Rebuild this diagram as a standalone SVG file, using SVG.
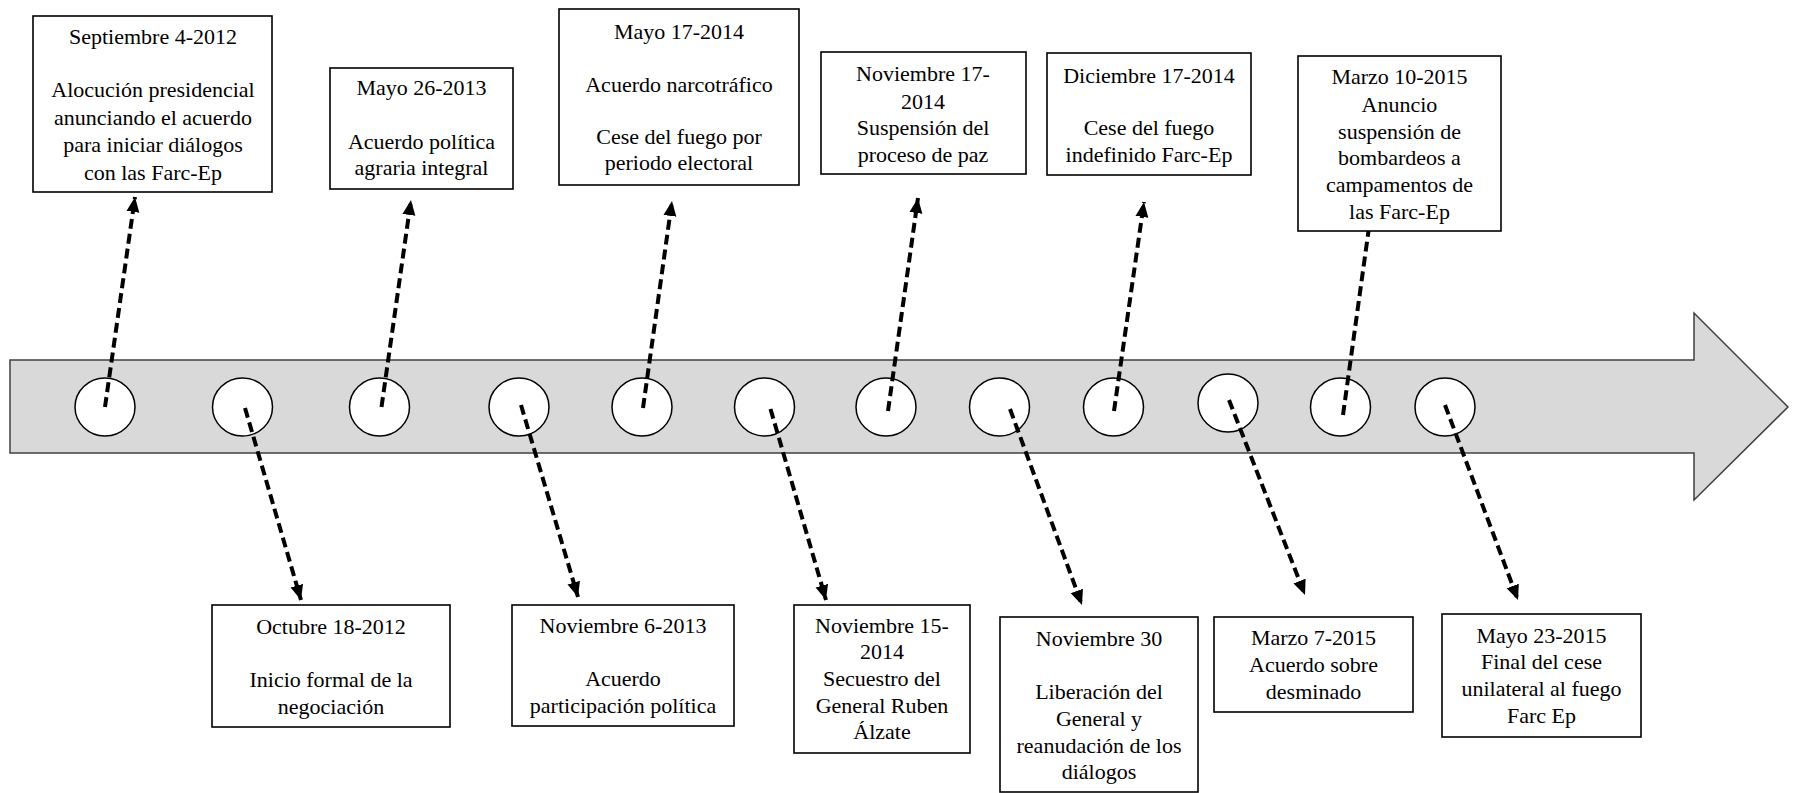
<svg xmlns="http://www.w3.org/2000/svg" width="1800" height="793" viewBox="0 0 1800 793">
<style>
.band{fill:#d9d9d9;stroke:#404040;stroke-width:1.5}
.dot{fill:#ffffff;stroke:#000000;stroke-width:1.5}
.box{fill:#ffffff;stroke:#000000;stroke-width:1.6}
.conn{fill:none;stroke:#000000;stroke-width:4;stroke-dasharray:10 5}
.t{font-family:'Liberation Serif','Times New Roman','DejaVu Serif',serif;font-size:22px;fill:#000000;text-anchor:middle}
</style>
<defs>
<marker id="ah" markerUnits="userSpaceOnUse" markerWidth="16" markerHeight="14" refX="15" refY="7" orient="auto" viewBox="0 0 16 14">
<path d="M0,0.5 L15,7 L0,13.5 z" fill="#000000"/>
</marker>
</defs>
<rect width="1800" height="793" fill="#ffffff"/>
<g id="timeline">
<path class="band" d="M10,360 H1694 V313 L1788,407 L1694,500 V453 H10 Z"/>
</g>
<g id="points">
<ellipse class="dot" cx="105" cy="407" rx="30" ry="29"/>
<ellipse class="dot" cx="242.5" cy="407" rx="30" ry="29"/>
<ellipse class="dot" cx="379.5" cy="407" rx="30" ry="29"/>
<ellipse class="dot" cx="519" cy="407" rx="30" ry="29"/>
<ellipse class="dot" cx="642" cy="407" rx="30" ry="29"/>
<ellipse class="dot" cx="764.5" cy="407" rx="30" ry="29"/>
<ellipse class="dot" cx="886" cy="407" rx="30" ry="29"/>
<ellipse class="dot" cx="999.5" cy="407" rx="30" ry="29"/>
<ellipse class="dot" cx="1113.5" cy="407" rx="30" ry="29"/>
<ellipse class="dot" cx="1228" cy="403" rx="30" ry="29"/>
<ellipse class="dot" cx="1340.5" cy="407" rx="30" ry="29"/>
<ellipse class="dot" cx="1445" cy="407" rx="30" ry="29"/>
</g>
<g id="connectors">
<path class="conn" d="M105,407 L135,197" marker-end="url(#ah)"/>
<path class="conn" d="M381.5,407 L411,200" marker-end="url(#ah)"/>
<path class="conn" d="M643,408 L672,201" marker-end="url(#ah)"/>
<path class="conn" d="M888,411 L918,198" marker-end="url(#ah)"/>
<path class="conn" d="M1114,411 L1144,202" marker-end="url(#ah)"/>
<path class="conn" d="M1343,415 L1368.5,231"/>
<path class="conn" d="M245,408 L301,600" marker-end="url(#ah)"/>
<path class="conn" d="M521,405 L578,597" marker-end="url(#ah)"/>
<path class="conn" d="M770.5,409 L826,600" marker-end="url(#ah)"/>
<path class="conn" d="M1010,409 L1082,605" marker-end="url(#ah)"/>
<path class="conn" d="M1229,400 L1305,595" marker-end="url(#ah)"/>
<path class="conn" d="M1445,405 L1518,600" marker-end="url(#ah)"/>
</g>
<g id="n1" class="t" font-family="Liberation Serif, DejaVu Serif, serif">
<rect class="box" x="33" y="16" width="239" height="176"/>
<text x="153" y="44">Septiembre 4-2012</text>
<text x="153" y="97">Alocución presidencial</text>
<text x="153" y="125">anunciando el acuerdo</text>
<text x="153" y="152">para iniciar diálogos</text>
<text x="153" y="180">con las Farc-Ep</text>
</g>
<g id="n2" class="t" font-family="Liberation Serif, DejaVu Serif, serif">
<rect class="box" x="330" y="68" width="183" height="121"/>
<text x="421.5" y="95">Mayo 26-2013</text>
<text x="421.5" y="149">Acuerdo política</text>
<text x="421.5" y="175">agraria integral</text>
</g>
<g id="n3" class="t" font-family="Liberation Serif, DejaVu Serif, serif">
<rect class="box" x="559" y="9" width="240" height="176"/>
<text x="679" y="39">Mayo 17-2014</text>
<text x="679" y="92">Acuerdo narcotráfico</text>
<text x="679" y="144">Cese del fuego por</text>
<text x="679" y="170">periodo electoral</text>
</g>
<g id="n4" class="t" font-family="Liberation Serif, DejaVu Serif, serif">
<rect class="box" x="821" y="52" width="205" height="122"/>
<text x="923" y="81">Noviembre 17-</text>
<text x="923" y="109">2014</text>
<text x="923" y="135">Suspensión del</text>
<text x="923" y="162">proceso de paz</text>
</g>
<g id="n5" class="t" font-family="Liberation Serif, DejaVu Serif, serif">
<rect class="box" x="1047" y="53" width="204" height="122"/>
<text x="1149" y="83">Diciembre 17-2014</text>
<text x="1149" y="135">Cese del fuego</text>
<text x="1149" y="162">indefinido Farc-Ep</text>
</g>
<g id="n6" class="t" font-family="Liberation Serif, DejaVu Serif, serif">
<rect class="box" x="1298" y="56" width="203" height="175"/>
<text x="1399.5" y="84">Marzo 10-2015</text>
<text x="1399.5" y="112">Anuncio</text>
<text x="1399.5" y="139">suspensión de</text>
<text x="1399.5" y="165">bombardeos a</text>
<text x="1399.5" y="192">campamentos de</text>
<text x="1399.5" y="219">las Farc-Ep</text>
</g>
<g id="n7" class="t" font-family="Liberation Serif, DejaVu Serif, serif">
<rect class="box" x="212" y="605" width="238" height="122"/>
<text x="331" y="634">Octubre 18-2012</text>
<text x="331" y="687">Inicio formal de la</text>
<text x="331" y="714">negociación</text>
</g>
<g id="n8" class="t" font-family="Liberation Serif, DejaVu Serif, serif">
<rect class="box" x="512" y="605" width="222" height="121"/>
<text x="623" y="633">Noviembre 6-2013</text>
<text x="623" y="686">Acuerdo</text>
<text x="623" y="713">participación política</text>
</g>
<g id="n9" class="t" font-family="Liberation Serif, DejaVu Serif, serif">
<rect class="box" x="794" y="605" width="176" height="148"/>
<text x="882" y="633">Noviembre 15-</text>
<text x="882" y="659">2014</text>
<text x="882" y="686">Secuestro del</text>
<text x="882" y="713">General Ruben</text>
<text x="882" y="739">Álzate</text>
</g>
<g id="n10" class="t" font-family="Liberation Serif, DejaVu Serif, serif">
<rect class="box" x="1000" y="617" width="198" height="175"/>
<text x="1099" y="646">Noviembre 30</text>
<text x="1099" y="699">Liberación del</text>
<text x="1099" y="726">General y</text>
<text x="1099" y="753">reanudación de los</text>
<text x="1099" y="779">diálogos</text>
</g>
<g id="n11" class="t" font-family="Liberation Serif, DejaVu Serif, serif">
<rect class="box" x="1214" y="617" width="199" height="95"/>
<text x="1313.5" y="645">Marzo 7-2015</text>
<text x="1313.5" y="672">Acuerdo sobre</text>
<text x="1313.5" y="699">desminado</text>
</g>
<g id="n12" class="t" font-family="Liberation Serif, DejaVu Serif, serif">
<rect class="box" x="1442" y="614" width="199" height="123"/>
<text x="1541.5" y="643">Mayo 23-2015</text>
<text x="1541.5" y="669">Final del cese</text>
<text x="1541.5" y="696">unilateral al fuego</text>
<text x="1541.5" y="723">Farc Ep</text>
</g>
</svg>
